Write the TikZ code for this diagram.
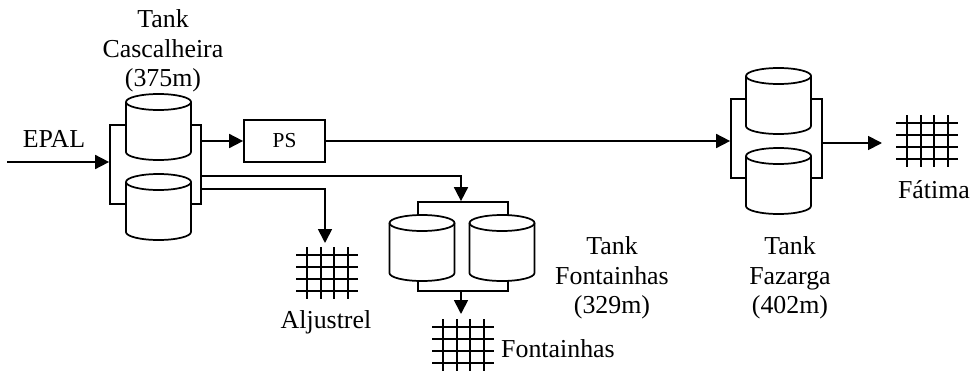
\documentclass[tikz,border=0pt]{standalone}
\usepackage{fontspec}
\setmainfont{Liberation Serif}
\usepackage{tikz}
\usetikzlibrary{arrows.meta}

\tikzset{
    frame/.style={draw,inner sep=0pt},
    label/.style={align=center,inner sep=0pt,font=\fontsize{19.4}{22}\selectfont},
    flow/.style={-{Triangle[length=10.5pt,width=10.5pt]}}
}

% tank: cylinder round a centre, in pixels
\newcommand{\tank}[2]{
    \draw[fill=white] (#1-32.5,#2-25) arc[start angle=180,end angle=0,x radius=24.4pt,y radius=6pt]
        -- (#1+32.5,#2+25) arc[start angle=0,end angle=-180,x radius=24.4pt,y radius=6pt] -- cycle;
    \draw (#1-32.5,#2-25) arc[start angle=180,end angle=360,x radius=24.4pt,y radius=6pt];
}

% net: four by four lines round a centre, in pixels
\newcommand{\net}[2]{
    \foreach \dx in {-20,-6,7,21}
        \draw (#1+\dx,#2-26) -- (#1+\dx,#2+26);
    \foreach \dy in {-18,-6,6,18}
        \draw (#1-31,#2+\dy) -- (#1+31,#2+\dy);
}

\begin{document}
\begin{tikzpicture}[x=0.75pt,y=-0.75pt,line width=1.3pt]
    \useasboundingbox (0,0) rectangle (977,371);

    % tank frames first, the tanks cover them
    \node[frame,minimum width=91*0.75pt,minimum height=79*0.75pt] (cascFrame) at (155.5,164.5) {};
    \node[frame,minimum width=90*0.75pt,minimum height=89*0.75pt] (fontFrame) at (463,246.5) {};
    \node[frame,minimum width=91*0.75pt,minimum height=79*0.75pt] (fazFrame) at (776.5,138.5) {};

    \tank{158.5}{127}
    \tank{158.5}{207}
    \tank{422}{248}
    \tank{502}{248}
    \tank{778.5}{101}
    \tank{778.5}{181}

    \node[draw,minimum width=81*0.75pt,minimum height=42*0.75pt,inner sep=0pt,
        font=\fontsize{16}{19}\selectfont] (ps) at (284.5,141) {PS};

    \net{327}{273}
    \net{463}{345}
    \net{927}{141}

    \coordinate (epalIn) at (7,162);
    \coordinate (fontBranch) at (201,176);
    \coordinate (aljBranch) at (201,189);
    \coordinate (aljNet) at (325,243);
    \coordinate (fontNet) at (461,314);
    \coordinate (fatNet) at (882,143);

    \draw[flow] (epalIn) -- (cascFrame.west |- epalIn);
    \draw[flow] (cascFrame.east |- ps.west) -- (ps.west);
    \draw[flow] (ps.east) -- (fazFrame.west |- ps.east);
    \draw[flow] (fontBranch) -| (fontNet |- fontFrame.north);
    \draw[flow] (aljBranch) -| (aljNet);
    \draw[flow] (fontNet |- fontFrame.south) -- (fontNet);
    \draw[flow] (fazFrame.east |- fatNet) -- (fatNet);

    \node[label] (cascLabel) at (163,51) {Tank\\Cascalheira\\(375m)};
    \node[label] (fontLabel) at (612,278) {Tank\\Fontainhas\\(329m)};
    \node[label] (fazLabel) at (790,278) {Tank\\Fazarga\\(402m)};
    \node[label] (epalLabel) at (54,139) {EPAL};
    \node[label] (aljLabel) at (326,322) {Aljustrel};
    \node[label] (fontNetLabel) at (558,349) {Fontainhas};
    \node[label] (fatLabel) at (934,190) {Fátima};
\end{tikzpicture}
\end{document}
